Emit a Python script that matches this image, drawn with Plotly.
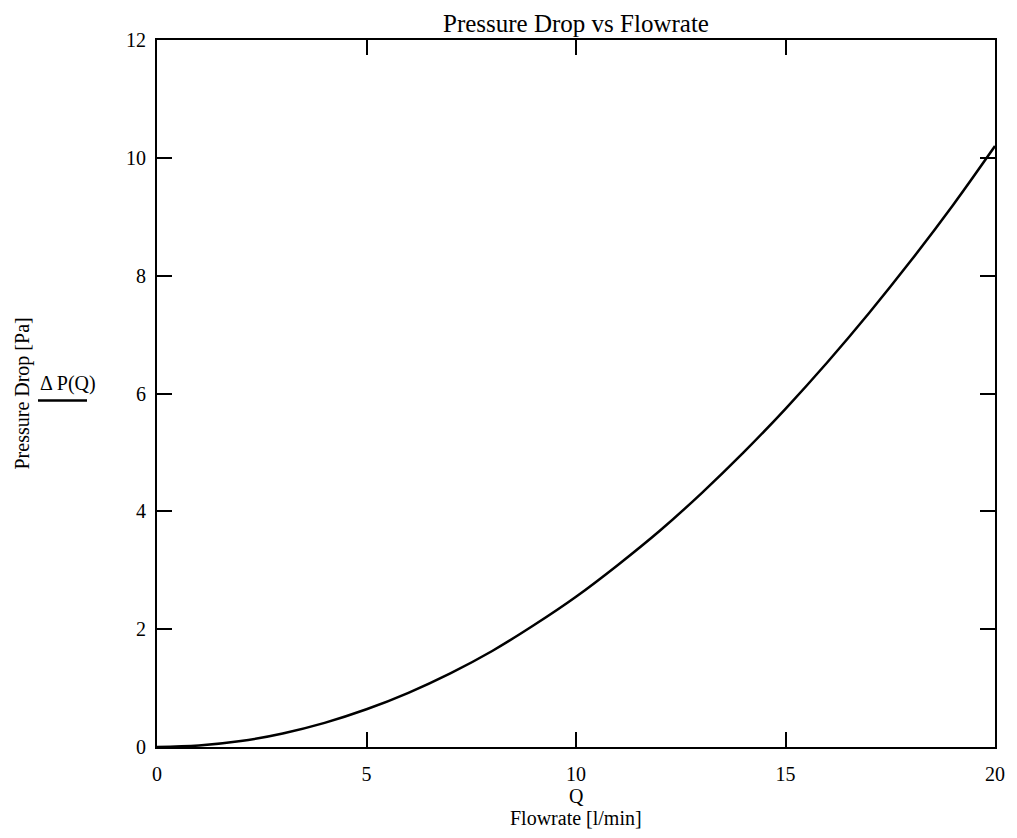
import plotly.graph_objects as go

# Flowrate Q [l/min] and pressure drop ΔP(Q) [Pa]
flowrate = [0, 1, 2, 3, 4, 5, 6, 7, 8, 9, 10, 11, 12, 13, 14, 15, 16, 17, 18, 19, 20]
pressure_drop = [0.0, 0.025, 0.10, 0.23, 0.41, 0.64, 0.92, 1.25, 1.63, 2.07, 2.55,
                 3.09, 3.67, 4.31, 5.00, 5.74, 6.53, 7.37, 8.26, 9.20, 10.20]

x_ticks = [0, 5, 10, 15, 20]
y_ticks = [0, 2, 4, 6, 8, 10, 12]

FONT = "Liberation Serif, Times New Roman, serif"

fig = go.Figure()
fig.add_trace(go.Scatter(
    x=flowrate, y=pressure_drop, mode="lines",
    line=dict(color="black", width=2.5, shape="spline"),
    showlegend=False, hoverinfo="skip",
))

axis_common = dict(
    showline=True, linecolor="black", linewidth=2, mirror="ticks",
    ticks="inside", ticklen=15, tickwidth=1.5, tickcolor="black",
    showgrid=False, zeroline=False,
    tickfont=dict(family=FONT, size=20, color="black"),
)

fig.update_layout(
    width=1017, height=838,
    margin=dict(l=157, r=20, t=40, b=91),
    paper_bgcolor="white", plot_bgcolor="white",
    xaxis=dict(range=[0, 20], tickvals=x_ticks, ticktext=[str(v) for v in x_ticks],
               ticklabelstandoff=8, **axis_common),
    yaxis=dict(range=[0, 12], tickvals=y_ticks, ticktext=[str(v) for v in y_ticks],
               ticklabelstandoff=5, **axis_common),
    font=dict(family=FONT, color="black"),
)

# Title
fig.add_annotation(text="Pressure Drop vs Flowrate", xref="paper", yref="paper",
                   x=0.5, y=1.0, yshift=17, xanchor="center", yanchor="middle",
                   showarrow=False, font=dict(family=FONT, size=25))

# X axis labels
fig.add_annotation(text="Q", xref="paper", yref="paper", x=0.5, y=0, yshift=-49,
                   xanchor="center", yanchor="middle", showarrow=False,
                   font=dict(family=FONT, size=20))
fig.add_annotation(text="Flowrate [l/min]", xref="paper", yref="paper", x=0.5, y=0,
                   yshift=-71, xanchor="center", yanchor="middle", showarrow=False,
                   font=dict(family=FONT, size=20))

# Y axis labels
fig.add_annotation(text="Pressure Drop [Pa]", xref="paper", yref="paper", x=0, y=0.5,
                   xshift=-135, xanchor="center", yanchor="middle", textangle=-90,
                   showarrow=False, font=dict(family=FONT, size=20))
fig.add_annotation(text="Δ P(Q)", xref="paper", yref="paper", x=0, y=0.5,
                   xshift=-89, yshift=10, xanchor="center", yanchor="middle",
                   showarrow=False, font=dict(family=FONT, size=20))
# Trace line sample beneath the function name
fig.add_shape(type="line", xref="paper", yref="paper", x0=-119, x1=-70, y0=-7, y1=-7,
              xsizemode="pixel", ysizemode="pixel", xanchor=0, yanchor=0.5,
              line=dict(color="black", width=2.5))

fig.write_html("out.html")
